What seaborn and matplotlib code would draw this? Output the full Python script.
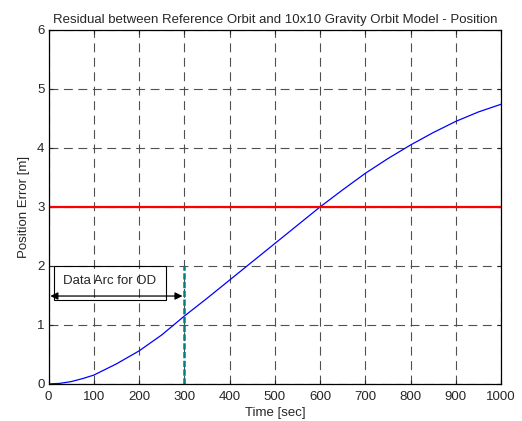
import numpy as np
import pandas as pd
import seaborn as sns
import matplotlib.pyplot as plt
from matplotlib.patches import Rectangle

# values
time_sec = [0, 25, 50, 75, 100, 150, 200, 250, 300, 350, 400, 450, 500, 550,
            600, 650, 700, 750, 800, 850, 900, 950, 1000]
pos_err = [0.0, 0.01, 0.04, 0.09, 0.15, 0.34, 0.56, 0.83, 1.15, 1.45, 1.76, 2.07, 2.38, 2.69,
           3.0, 3.29, 3.57, 3.82, 4.05, 4.26, 4.45, 4.61, 4.74]
threshold = 3.0
od_end = 300
od_top = 2.0

sns.set_style("white")
plt.rcParams['font.family'] = ['Liberation Sans', 'DejaVu Sans']
plt.rcParams['font.size'] = 9.5

df = pd.DataFrame({'Time': time_sec, 'Err': pos_err})

fig = plt.figure(figsize=(5.22, 4.21), dpi=100)
ax = fig.add_axes([0.093, 0.088, 0.867, 0.841])

sns.lineplot(data=df, x='Time', y='Err', ax=ax, color='blue', linewidth=0.9)
ax.axhline(threshold, color='red', linewidth=1.6)
ax.plot([od_end, od_end], [0, od_top], color='teal', linestyle='--', linewidth=1.8, dashes=(2.5, 1))

# text box and arrow for OD arc
ax.add_patch(Rectangle((12, 1.43), 248, 0.57, fill=False, edgecolor='black', linewidth=0.8, zorder=4))
ax.text(134, 1.75, 'Data Arc for OD', ha='center', va='center', fontsize=9.5, zorder=5)
ax.annotate('', xy=(4, 1.49), xytext=(296, 1.49),
            arrowprops=dict(arrowstyle='<|-|>', color='black', linewidth=0.9,
                            mutation_scale=11, shrinkA=0, shrinkB=0))

ax.set_xlim(0, 1000)
ax.set_ylim(0, 6)
ax.set_xticks(range(0, 1001, 100))
ax.set_yticks(range(0, 7))
ax.grid(True, color='#505050', linestyle=(0, (8, 5)), linewidth=0.8)
ax.tick_params(direction='in', length=3, top=True, right=True, labelsize=9.5,
               bottom=True, left=True)
ax.tick_params(axis='x', pad=5)
ax.tick_params(axis='y', pad=3)
for s in ax.spines.values():
    s.set_color('black')
    s.set_linewidth(0.9)

ax.set_xlabel('Time [sec]', fontsize=9.5, labelpad=3)
ax.set_ylabel('Position Error [m]', fontsize=9.5, labelpad=5)
ax.set_title('Residual between Reference Orbit and 10x10 Gravity Orbit Model - Position',
             fontsize=9.5, pad=5)

fig.savefig('out.png', dpi=100)
